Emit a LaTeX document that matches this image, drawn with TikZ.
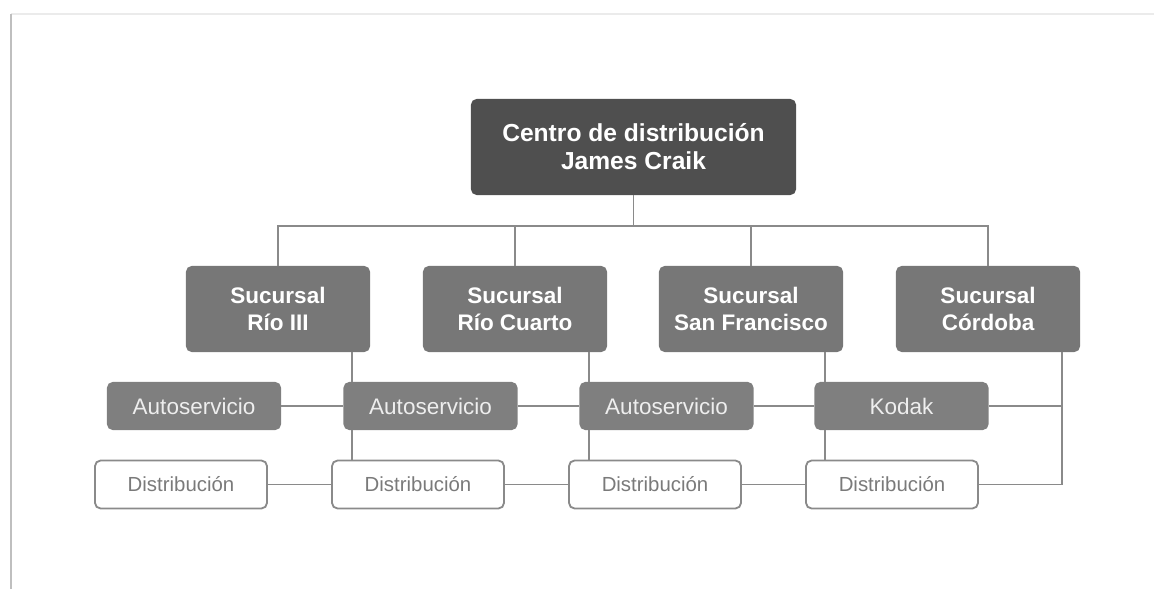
\documentclass[tikz,border=0pt]{standalone}
\usepackage{fontspec}
\setmainfont{Liberation Sans}
\usetikzlibrary{positioning}
\definecolor{headgray}{HTML}{4F4F4F}
\definecolor{sucgray}{HTML}{777777}
\definecolor{servgray}{HTML}{7F7F7F}
\definecolor{servtext}{HTML}{EEEEEE}
\definecolor{disttext}{HTML}{7A7A7A}
\definecolor{linegray}{HTML}{8A8A8A}
\begin{document}
\begin{tikzpicture}[x=0.025cm,y=-0.025cm,
        line/.style={draw=linegray,line width=1.3pt},
        head/.style={rectangle,rounded corners=4pt,fill=headgray,text=white,align=center,
            minimum width=8.125cm,minimum height=2.4cm,font=\bfseries\fontsize{17.5}{20}\selectfont},
        suc/.style={rectangle,rounded corners=4pt,fill=sucgray,text=white,align=center,
            minimum width=4.6cm,minimum height=2.15cm,font=\bfseries\fontsize{16}{19}\selectfont},
        serv/.style={rectangle,rounded corners=4pt,fill=servgray,text=servtext,
            minimum width=4.35cm,minimum height=1.2cm,font=\fontsize{16}{19}\selectfont},
        dist/.style={rectangle,rounded corners=4pt,draw=linegray,line width=1.3pt,fill=white,text=disttext,
            minimum width=4.3cm,minimum height=1.2cm,font=\fontsize{14.5}{17}\selectfont}]

    \useasboundingbox (0,0) rectangle (1154,589);
    % page frame
    \draw[draw=black!8,line width=1.2pt] (11,14) -- (1154,14);
    \draw[draw=black!25,line width=1.6pt] (11,14) -- (11,589);

    \node[head] (top) at (633.5,147) {Centro de distribución\\James Craik};

    \node[suc] (s1) at (278,309) {Sucursal\\Río III};
    \node[suc] (s2) at (515,309) {Sucursal\\Río Cuarto};
    \node[suc] (s3) at (751,309) {Sucursal\\San Francisco};
    \node[suc] (s4) at (988,309) {Sucursal\\Córdoba};

    \node[serv] (a1) at (194,406)   {Autoservicio};
    \node[serv] (a2) at (430.5,406) {Autoservicio};
    \node[serv] (a3) at (666.5,406) {Autoservicio};
    \node[serv] (k)  at (901.5,406) {Kodak};

    \node[dist] (d1) at (181,484.5) {Distribución};
    \node[dist] (d2) at (418,484.5) {Distribución};
    \node[dist] (d3) at (655,484.5) {Distribución};
    \node[dist] (d4) at (892,484.5) {Distribución};

    \coordinate (bus) at (633.5,226);
    \coordinate (v1) at ([xshift=-0.46cm]s1.south east);
    \coordinate (v2) at ([xshift=-0.46cm]s2.south east);
    \coordinate (v3) at ([xshift=-0.46cm]s3.south east);
    \coordinate (v4) at ([xshift=-0.46cm]s4.south east);

    \draw[line] (top.south) -- (bus);
    \draw[line] (s1.north) |- (bus) -| (s4.north);
    \draw[line] (s2.north) -- (s2.north |- bus);
    \draw[line] (s3.north) -- (s3.north |- bus);

    \draw[line] (v1) -- (v1 |- a2.north);
    \draw[line] (v1 |- a2.south) -- (v1 |- d2.north);
    \draw[line] (v2) -- (v2 |- a3.north);
    \draw[line] (v2 |- a3.south) -- (v2 |- d3.north);
    \draw[line] (v3) -- (v3 |- k.north);
    \draw[line] (v3 |- k.south) -- (v3 |- d4.north);
    \draw[line] (v4) |- (d4.east);
    \draw[line] (k.east) -- (k.east -| v4);

    \path[line] (a1) edge (a2) (a2) edge (a3) (a3) edge (k);
    \path[line] (d1) edge (d2) (d2) edge (d3) (d3) edge (d4);

\end{tikzpicture}
\end{document}
